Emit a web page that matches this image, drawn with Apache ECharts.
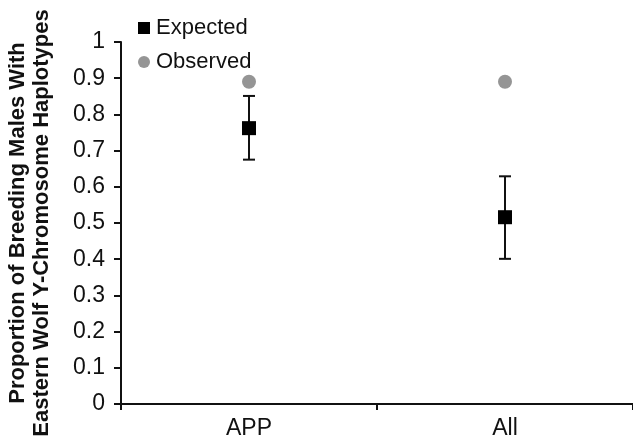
<!DOCTYPE html>
<html>
<head>
<meta charset="utf-8">
<script src="https://cdn.jsdelivr.net/npm/echarts@6/dist/echarts.min.js"></script>
<style>
html,body{margin:0;padding:0;background:#fff;}
#chart{width:633px;height:444px;}
</style>
</head>
<body>
<div id="chart"></div>
<script>
const categories = ['APP', 'All'];
const expected = [0.762, 0.516];
const errLow = [0.675, 0.401];
const errHigh = [0.851, 0.629];
const observed = [0.89, 0.89];
const yTicks = [0, 0.1, 0.2, 0.3, 0.4, 0.5, 0.6, 0.7, 0.8, 0.9, 1];

const FONT = 'Liberation Sans, Arial, Helvetica, sans-serif';
const errData = categories.map((c, i) => [i, errLow[i], errHigh[i]]);

const chart = echarts.init(document.getElementById('chart'));
chart.setOption({
  backgroundColor: '#fff',
  animation: false,
  textStyle: { fontFamily: FONT },
  legend: {
    orient: 'vertical',
    left: 133,
    top: 11,
    itemWidth: 12,
    itemHeight: 12,
    itemGap: 10,
    data: [
      { name: 'Expected', icon: 'rect' },
      { name: 'Observed', icon: 'circle' }
    ],
    textStyle: { fontSize: 22, color: '#111', fontFamily: FONT, lineHeight: 24, padding: [0, 0, 0, 1] }
  },
  grid: { left: 121, right: 0, top: 42, bottom: 40, containLabel: false, outerBoundsMode: 'none' },
  xAxis: {
    type: 'category',
    data: categories,
    boundaryGap: true,
    axisLine: { lineStyle: { color: '#111', width: 2 } },
    axisTick: { show: true, length: 6, lineStyle: { color: '#111', width: 2 } },
    axisLabel: { fontSize: 23, color: '#111', fontFamily: FONT, margin: 13 },
    splitLine: { show: false }
  },
  yAxis: {
    type: 'value',
    min: yTicks[0],
    max: yTicks[yTicks.length - 1],
    interval: 0.1,
    name: 'Proportion of Breeding Males With\nEastern Wolf Y-Chromosome Haplotypes',
    nameLocation: 'middle',
    nameRotate: 90,
    nameGap: 67,
    nameTextStyle: { fontSize: 22, fontWeight: 'bold', color: '#111', fontFamily: FONT, lineHeight: 24 },
    axisLine: { show: true, lineStyle: { color: '#111', width: 2 } },
    axisTick: { show: true, length: 7, lineStyle: { color: '#111', width: 2 } },
    axisLabel: { fontSize: 23, color: '#111', fontFamily: FONT, margin: 16 },
    splitLine: { show: false }
  },
  series: [
    {
      name: 'Error',
      type: 'custom',
      z: 2,
      silent: true,
      data: errData,
      renderItem: function (params, api) {
        const x = api.value(0);
        const lo = api.coord([x, api.value(1)]);
        const hi = api.coord([x, api.value(2)]);
        const hw = 6;
        const style = { stroke: '#111', lineWidth: 2 };
        return {
          type: 'group',
          children: [
            { type: 'line', shape: { x1: lo[0], y1: lo[1], x2: hi[0], y2: hi[1] }, style: style },
            { type: 'line', shape: { x1: lo[0] - hw, y1: lo[1], x2: lo[0] + hw, y2: lo[1] }, style: style },
            { type: 'line', shape: { x1: hi[0] - hw, y1: hi[1], x2: hi[0] + hw, y2: hi[1] }, style: style }
          ]
        };
      }
    },
    {
      name: 'Expected',
      type: 'scatter',
      z: 3,
      symbol: 'rect',
      symbolSize: 14,
      itemStyle: { color: '#000', opacity: 1 },
      data: expected
    },
    {
      name: 'Observed',
      type: 'scatter',
      z: 3,
      symbol: 'circle',
      symbolSize: 14,
      itemStyle: { color: '#959595', opacity: 1 },
      data: observed
    }
  ]
});
</script>
</body>
</html>
